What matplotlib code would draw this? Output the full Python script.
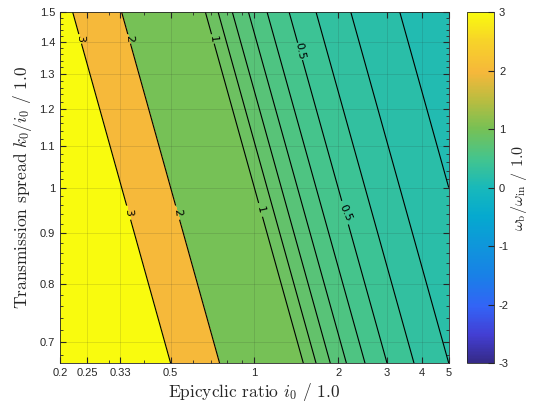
import numpy as np
import matplotlib
matplotlib.use("Agg")
import matplotlib.pyplot as plt
from matplotlib import ticker
from matplotlib.colors import LinearSegmentedColormap, Normalize
from matplotlib.cm import ScalarMappable

# Axis ranges (log axes)
i0_range = [0.2, 5.0]
k_range = [2 / 3, 1.5]

# Contour levels
line_levels = [0.2, 0.3, 0.4, 0.6, 0.7, 0.8, 0.9]   # unlabelled lines
label_levels = [0.5, 1, 2, 3]                        # labelled lines
fill_levels = [0.1, 0.2, 0.3, 0.4, 0.5, 0.6, 0.7, 0.8, 0.9, 1, 2, 3, 100]
label_k_top = [1.37, 1.41, 1.41, 1.41]
label_k_bottom = [0.944, 0.95, 0.944, 0.944]

x_ticks = [0.2, 0.25, 0.33, 0.5, 1, 2, 3, 4, 5]
x_tick_labels = ["0.2", "0.25", "0.33", "0.5", "1", "2", "3", "4", "5"]
y_ticks = [0.7, 0.8, 0.9, 1.0, 1.1, 1.2, 1.3, 1.4, 1.5]
y_tick_labels = ["0.7", "0.8", "0.9", "1", "1.1", "1.2", "1.3", "1.4", "1.5"]
cbar_ticks = [-3, -2, -1, 0, 1, 2, 3]
cbar_limits = [-3, 3]

# approximate MATLAB parula
parula_pts = [
    (0.00, (0.208, 0.166, 0.529)),
    (0.08, (0.262, 0.245, 0.830)),
    (0.16, (0.200, 0.390, 0.965)),
    (0.25, (0.095, 0.505, 0.905)),
    (0.33, (0.060, 0.585, 0.860)),
    (0.42, (0.020, 0.665, 0.810)),
    (0.50, (0.095, 0.725, 0.730)),
    (0.58, (0.260, 0.770, 0.560)),
    (0.67, (0.470, 0.755, 0.330)),
    (0.75, (0.730, 0.740, 0.250)),
    (0.83, (0.965, 0.720, 0.230)),
    (0.92, (0.970, 0.830, 0.160)),
    (1.00, (0.977, 0.984, 0.054)),
]
parula = LinearSegmentedColormap.from_list("parula", parula_pts)
norm = Normalize(*cbar_limits)

# speed ratio field: contours follow i0 * k = const
i0 = np.geomspace(i0_range[0], i0_range[1], 400)
k = np.geomspace(k_range[0], k_range[1], 300)
I0, K = np.meshgrid(i0, k)
ratio = 1.0 / (I0 * K)

plt.rcParams["mathtext.fontset"] = "cm"
plt.rcParams["axes.unicode_minus"] = False

fig = plt.figure(figsize=(5.4, 4.16), dpi=100)
ax = fig.add_axes([0.111, 0.127, 0.72, 0.844])

# MATLAB style: each band coloured by its lower level
band_colors = [parula(norm(v)) for v in fill_levels[:-1]]
ax.contourf(I0, K, ratio, levels=fill_levels, colors=band_colors)
ax.contour(I0, K, ratio, levels=line_levels, colors="k", linewidths=0.8)
cs = ax.contour(I0, K, ratio, levels=label_levels, colors="k", linewidths=0.8)

manual = []
for lev, kt, kb in zip(label_levels, label_k_top, label_k_bottom):
    manual.append((1 / (lev * kt), kt))
    manual.append((1 / (lev * kb), kb))
ax.clabel(cs, manual=manual, fontsize=8, inline=True,
          inline_spacing=3, fmt=lambda v: f"{v:g}")

ax.set_xscale("log")
ax.set_yscale("log")
ax.set_xlim(i0_range)
ax.set_ylim(k_range)
ax.set_xticks(x_ticks)
ax.set_xticklabels(x_tick_labels)
ax.set_yticks(y_ticks)
ax.set_yticklabels(y_tick_labels)
ax.xaxis.set_minor_locator(ticker.LogLocator(base=10, subs=np.arange(2, 10)))
ax.xaxis.set_minor_formatter(ticker.NullFormatter())
ax.yaxis.set_minor_locator(ticker.MultipleLocator(0.02))
ax.yaxis.set_minor_formatter(ticker.NullFormatter())

ax.grid(True, which="major", color="0.15", alpha=0.15, linewidth=0.6)
ax.tick_params(which="both", direction="in", top=True, right=True,
               colors="0.15", labelsize=8)
ax.tick_params(which="major", length=4)
ax.tick_params(which="minor", length=2)
for lab in ax.get_xticklabels() + ax.get_yticklabels():
    lab.set_fontfamily("Liberation Sans")
for sp in ax.spines.values():
    sp.set_color("0.15")
    sp.set_linewidth(0.6)

ax.set_xlabel(r"Epicyclic ratio $i_0$ / 1.0", fontfamily="cmr10",
              fontsize=12.5, color="0.15", labelpad=2)
ax.set_ylabel(r"Transmission spread $k_0/i_0$ / 1.0", fontfamily="cmr10",
              fontsize=12.5, color="0.15", labelpad=4)

cax = fig.add_axes([0.865, 0.127, 0.05, 0.844])
cb = fig.colorbar(ScalarMappable(norm=norm, cmap=parula), cax=cax,
                  ticks=cbar_ticks)
cb.ax.set_yticklabels([str(t) for t in cbar_ticks])
cb.ax.tick_params(direction="in", labelsize=8, colors="0.15", length=4)
for lab in cb.ax.get_yticklabels():
    lab.set_fontfamily("Liberation Sans")
cb.outline.set_edgecolor("0.15")
cb.outline.set_linewidth(0.6)
cb.set_label(r"$\omega_\mathrm{b}/\omega_\mathrm{in}$ / 1.0", fontsize=11.5,
             fontfamily="cmr10", color="0.15", labelpad=0)

fig.savefig("out.png", dpi=100)
